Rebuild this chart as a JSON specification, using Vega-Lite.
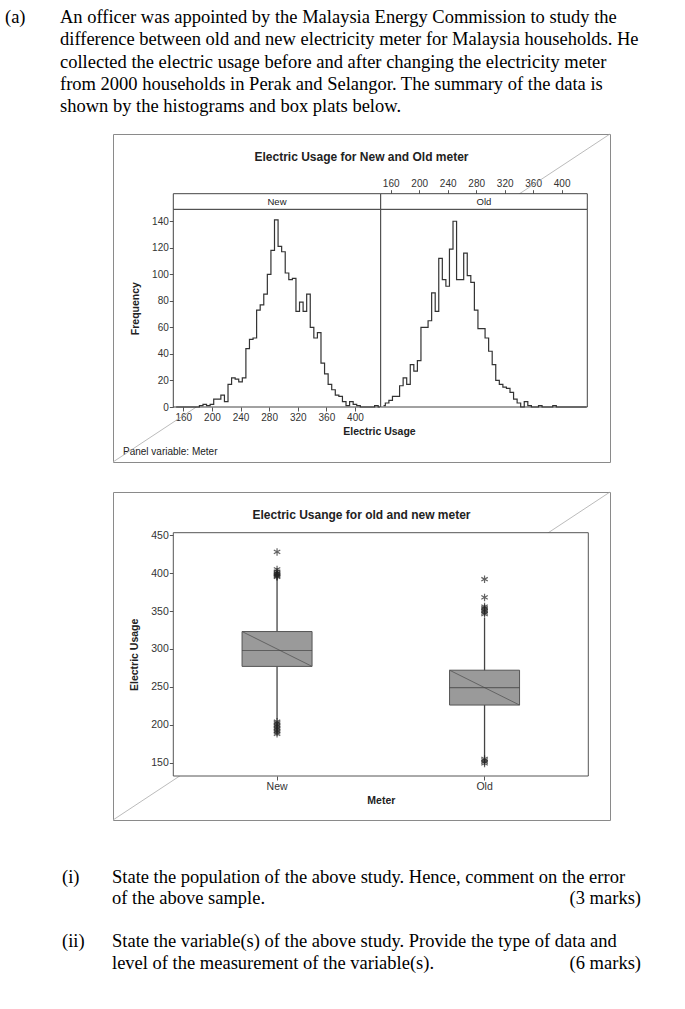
{
  "$schema": "https://vega.github.io/schema/vega-lite/v6.json",
  "padding": 0,
  "background": "white",
  "config": {
    "view": {"stroke": null},
    "font": "Liberation Sans",
    "axis": {"labelFont": "Liberation Sans", "labelFontSize": 10, "labelColor": "#333", "tickColor": "#555", "tickSize": 4, "labelPadding": 1, "domain": false, "grid": false, "titleFont": "Liberation Sans", "titleFontSize": 10.5, "titleFontWeight": "bold", "titleColor": "#222", "titlePadding": 4},
    "title": {"font": "Liberation Sans", "fontSize": 12, "fontWeight": "bold", "color": "#222"}
  },
  "datasets": {
    "para": [
      {"line": 1, "part": "label", "text": "(a)"},
      {"line": 1, "part": "body", "text": "An officer was appointed by the Malaysia Energy Commission to study the"},
      {"line": 2, "part": "body", "text": "difference between old and new electricity meter for Malaysia households. He"},
      {"line": 3, "part": "body", "text": "collected the electric usage before and after changing the electricity meter"},
      {"line": 4, "part": "body", "text": "from 2000 households in Perak and Selangor. The summary of the data is"},
      {"line": 5, "part": "body", "text": "shown by the histograms and box plats below."}
    ],
    "quest": [
      {"line": 1, "part": "label", "text": "(i)"},
      {"line": 1, "part": "body", "text": "State the population of the above study. Hence, comment on the error"},
      {"line": 2, "part": "body", "text": "of the above sample."},
      {"line": 2, "part": "marks", "text": "(3 marks)"},
      {"line": 4, "part": "label", "text": "(ii)"},
      {"line": 4, "part": "body", "text": "State the variable(s) of the above study. Provide the type of data and"},
      {"line": 5, "part": "body", "text": "level of the measurement of the variable(s)."},
      {"line": 5, "part": "marks", "text": "(6 marks)"}
    ],
    "hist": [
      {"meter": "New", "usage": 150, "freq": 0}, {"meter": "New", "usage": 155, "freq": 0}, {"meter": "New", "usage": 160, "freq": 0}, {"meter": "New", "usage": 165, "freq": 0},
      {"meter": "New", "usage": 170, "freq": 0}, {"meter": "New", "usage": 175, "freq": 0}, {"meter": "New", "usage": 180, "freq": 0}, {"meter": "New", "usage": 185, "freq": 1},
      {"meter": "New", "usage": 190, "freq": 2}, {"meter": "New", "usage": 195, "freq": 1}, {"meter": "New", "usage": 200, "freq": 2}, {"meter": "New", "usage": 205, "freq": 6},
      {"meter": "New", "usage": 210, "freq": 6}, {"meter": "New", "usage": 215, "freq": 9}, {"meter": "New", "usage": 220, "freq": 4}, {"meter": "New", "usage": 225, "freq": 17},
      {"meter": "New", "usage": 230, "freq": 22}, {"meter": "New", "usage": 235, "freq": 21}, {"meter": "New", "usage": 240, "freq": 19}, {"meter": "New", "usage": 245, "freq": 22},
      {"meter": "New", "usage": 250, "freq": 44}, {"meter": "New", "usage": 255, "freq": 51}, {"meter": "New", "usage": 260, "freq": 52}, {"meter": "New", "usage": 265, "freq": 73},
      {"meter": "New", "usage": 270, "freq": 77}, {"meter": "New", "usage": 275, "freq": 85}, {"meter": "New", "usage": 280, "freq": 100}, {"meter": "New", "usage": 285, "freq": 118},
      {"meter": "New", "usage": 290, "freq": 141}, {"meter": "New", "usage": 295, "freq": 121}, {"meter": "New", "usage": 300, "freq": 117}, {"meter": "New", "usage": 305, "freq": 101},
      {"meter": "New", "usage": 310, "freq": 96}, {"meter": "New", "usage": 315, "freq": 97}, {"meter": "New", "usage": 320, "freq": 72}, {"meter": "New", "usage": 325, "freq": 79},
      {"meter": "New", "usage": 330, "freq": 72}, {"meter": "New", "usage": 335, "freq": 85}, {"meter": "New", "usage": 340, "freq": 60}, {"meter": "New", "usage": 345, "freq": 52},
      {"meter": "New", "usage": 350, "freq": 56}, {"meter": "New", "usage": 355, "freq": 33}, {"meter": "New", "usage": 360, "freq": 25}, {"meter": "New", "usage": 365, "freq": 17},
      {"meter": "New", "usage": 370, "freq": 13}, {"meter": "New", "usage": 375, "freq": 9}, {"meter": "New", "usage": 380, "freq": 8}, {"meter": "New", "usage": 385, "freq": 4},
      {"meter": "New", "usage": 390, "freq": 1}, {"meter": "New", "usage": 395, "freq": 4}, {"meter": "New", "usage": 400, "freq": 2}, {"meter": "New", "usage": 405, "freq": 1},
      {"meter": "New", "usage": 410, "freq": 0}, {"meter": "New", "usage": 415, "freq": 0}, {"meter": "New", "usage": 420, "freq": 0}, {"meter": "New", "usage": 425, "freq": 0},
      {"meter": "New", "usage": 430, "freq": 1}, {"meter": "New", "usage": 435, "freq": 0},
      {"meter": "Old", "usage": 150, "freq": 1}, {"meter": "Old", "usage": 155, "freq": 3}, {"meter": "Old", "usage": 160, "freq": 5}, {"meter": "Old", "usage": 165, "freq": 8},
      {"meter": "Old", "usage": 170, "freq": 8}, {"meter": "Old", "usage": 175, "freq": 16}, {"meter": "Old", "usage": 180, "freq": 22}, {"meter": "Old", "usage": 185, "freq": 17},
      {"meter": "Old", "usage": 190, "freq": 32}, {"meter": "Old", "usage": 195, "freq": 27}, {"meter": "Old", "usage": 200, "freq": 35}, {"meter": "Old", "usage": 205, "freq": 60},
      {"meter": "Old", "usage": 210, "freq": 60}, {"meter": "Old", "usage": 215, "freq": 65}, {"meter": "Old", "usage": 220, "freq": 86}, {"meter": "Old", "usage": 225, "freq": 72},
      {"meter": "Old", "usage": 230, "freq": 112}, {"meter": "Old", "usage": 235, "freq": 96}, {"meter": "Old", "usage": 240, "freq": 91}, {"meter": "Old", "usage": 245, "freq": 119},
      {"meter": "Old", "usage": 250, "freq": 140}, {"meter": "Old", "usage": 255, "freq": 96}, {"meter": "Old", "usage": 260, "freq": 96}, {"meter": "Old", "usage": 265, "freq": 116},
      {"meter": "Old", "usage": 270, "freq": 99}, {"meter": "Old", "usage": 275, "freq": 94}, {"meter": "Old", "usage": 280, "freq": 73}, {"meter": "Old", "usage": 285, "freq": 59},
      {"meter": "Old", "usage": 290, "freq": 59}, {"meter": "Old", "usage": 295, "freq": 52}, {"meter": "Old", "usage": 300, "freq": 42}, {"meter": "Old", "usage": 305, "freq": 32},
      {"meter": "Old", "usage": 310, "freq": 20}, {"meter": "Old", "usage": 315, "freq": 17}, {"meter": "Old", "usage": 320, "freq": 15}, {"meter": "Old", "usage": 325, "freq": 14},
      {"meter": "Old", "usage": 330, "freq": 11}, {"meter": "Old", "usage": 335, "freq": 6}, {"meter": "Old", "usage": 340, "freq": 3}, {"meter": "Old", "usage": 345, "freq": 0},
      {"meter": "Old", "usage": 350, "freq": 4}, {"meter": "Old", "usage": 355, "freq": 1}, {"meter": "Old", "usage": 360, "freq": 0}, {"meter": "Old", "usage": 365, "freq": 0},
      {"meter": "Old", "usage": 370, "freq": 1}, {"meter": "Old", "usage": 375, "freq": 0}, {"meter": "Old", "usage": 380, "freq": 0}, {"meter": "Old", "usage": 385, "freq": 0},
      {"meter": "Old", "usage": 390, "freq": 1}, {"meter": "Old", "usage": 395, "freq": 0}, {"meter": "Old", "usage": 400, "freq": 0}, {"meter": "Old", "usage": 405, "freq": 0},
      {"meter": "Old", "usage": 410, "freq": 0}, {"meter": "Old", "usage": 415, "freq": 0}, {"meter": "Old", "usage": 420, "freq": 0}, {"meter": "Old", "usage": 425, "freq": 0},
      {"meter": "Old", "usage": 430, "freq": 0}, {"meter": "Old", "usage": 435, "freq": 0}
    ],
    "box": [
      {"meter": "New", "lower": 207, "q1": 277, "median": 298, "q3": 323, "upper": 393},
      {"meter": "Old", "lower": 157, "q1": 226, "median": 249, "q3": 272, "upper": 341}
    ],
    "outliers": [
      {"meter": "New", "value": 428}, {"meter": "New", "value": 405}, {"meter": "New", "value": 402}, {"meter": "New", "value": 400},
      {"meter": "New", "value": 399}, {"meter": "New", "value": 398}, {"meter": "New", "value": 397}, {"meter": "New", "value": 396},
      {"meter": "New", "value": 395}, {"meter": "New", "value": 204}, {"meter": "New", "value": 202}, {"meter": "New", "value": 200},
      {"meter": "New", "value": 198}, {"meter": "New", "value": 196}, {"meter": "New", "value": 194}, {"meter": "New", "value": 192},
      {"meter": "New", "value": 190}, {"meter": "New", "value": 188},
      {"meter": "Old", "value": 392}, {"meter": "Old", "value": 368}, {"meter": "Old", "value": 356}, {"meter": "Old", "value": 354},
      {"meter": "Old", "value": 352}, {"meter": "Old", "value": 350}, {"meter": "Old", "value": 348}, {"meter": "Old", "value": 346},
      {"meter": "Old", "value": 155}, {"meter": "Old", "value": 153}, {"meter": "Old", "value": 151}, {"meter": "Old", "value": 149}
    ]
  },
  "spacing": 28,
  "vconcat": [
    {
      "spacing": 13,
      "vconcat": [
        {
          "width": 685,
          "height": 120,
          "data": {"name": "para"},
          "mark": {"type": "text", "align": "left", "baseline": "middle", "font": "Liberation Serif", "fontSize": 18.5, "color": "#000"},
          "encoding": {
            "x": {"field": "part", "type": "nominal", "scale": {"type": "point", "domain": ["label", "body"], "range": [5, 60], "padding": 0}, "axis": null},
            "y": {"field": "line", "type": "quantitative", "scale": {"domain": [0.236, 5.629], "reverse": true, "nice": false, "zero": false}, "axis": null},
            "text": {"field": "text"}
          }
        },
        {
          "spacing": 0,
          "bounds": "flush",
          "hconcat": [
            {
              "width": 113,
              "height": 1,
              "data": {"values": []},
              "mark": "text",
              "title": {"text": "Panel variable: Meter", "orient": "bottom", "anchor": "start", "offset": 312, "dx": 123, "fontSize": 10, "fontWeight": "normal", "color": "#222"}
            },
            {
              "width": 497,
              "height": 328,
              "view": {"stroke": "#8a8a8a", "strokeWidth": 1, "fill": null},
              "title": {"text": "Electric Usage for New and Old meter", "orient": "top", "anchor": "middle", "offset": -30},
              "resolve": {"scale": {"x": "independent", "y": "independent"}, "axis": {"x": "independent", "y": "independent"}},
              "layer": [
                {
                  "data": {"values": [{}]},
                  "mark": {"type": "rule", "color": "#aaaaaa", "strokeWidth": 0.8},
                  "encoding": {
                    "x": {"datum": 0, "type": "quantitative", "scale": {"domain": [0, 1], "nice": false}, "axis": null},
                    "x2": {"datum": 1},
                    "y": {"datum": 0, "type": "quantitative", "scale": {"domain": [0, 1], "nice": false}, "axis": null},
                    "y2": {"datum": 1}
                  }
                },
                {
                  "data": {"values": [{}]},
                  "mark": {"type": "rect", "fill": "white", "stroke": "#444", "strokeWidth": 1},
                  "encoding": {
                    "x": {"datum": 146, "type": "quantitative", "scale": {"domain": [146, 436], "range": [60.3, 267.7], "nice": false, "zero": false}, "axis": null},
                    "x2": {"datum": 436},
                    "y": {"datum": 0, "type": "quantitative", "scale": {"domain": [0, 149], "range": [273, 75.3], "nice": false}, "axis": null},
                    "y2": {"datum": 149}
                  }
                },
                {
                  "data": {"values": [{}]},
                  "mark": {"type": "rect", "fill": "white", "stroke": "#444", "strokeWidth": 1},
                  "encoding": {
                    "x": {"datum": 146, "type": "quantitative", "scale": {"domain": [146, 436], "range": [267.7, 474.3], "nice": false, "zero": false}, "axis": null},
                    "x2": {"datum": 436},
                    "y": {"datum": 0, "type": "quantitative", "scale": {"domain": [0, 149], "range": [273, 75.3], "nice": false}, "axis": null},
                    "y2": {"datum": 149}
                  }
                },
                {
                  "data": {"values": [{"meter": "New"}]},
                  "mark": {"type": "rect", "fill": "white", "stroke": "#444", "strokeWidth": 1},
                  "encoding": {
                    "x": {"datum": 146, "type": "quantitative", "scale": {"domain": [146, 436], "range": [60.3, 267.7], "nice": false, "zero": false}, "axis": null},
                    "x2": {"datum": 436},
                    "y": {"datum": 0, "type": "quantitative", "scale": {"domain": [0, 1], "range": [75.3, 59.7], "nice": false}, "axis": null},
                    "y2": {"datum": 1}
                  }
                },
                {
                  "data": {"values": [{"meter": "New"}]},
                  "mark": {"type": "text", "fontSize": 9.5, "color": "#222", "baseline": "middle"},
                  "encoding": {
                    "x": {"datum": 291, "type": "quantitative", "scale": {"domain": [146, 436], "range": [60.3, 267.7], "nice": false, "zero": false}, "axis": null},
                    "y": {"datum": 0.5, "type": "quantitative", "scale": {"domain": [0, 1], "range": [75.3, 59.7], "nice": false}, "axis": null},
                    "text": {"field": "meter"}
                  }
                },
                {
                  "data": {"values": [{"meter": "Old"}]},
                  "mark": {"type": "rect", "fill": "white", "stroke": "#444", "strokeWidth": 1},
                  "encoding": {
                    "x": {"datum": 146, "type": "quantitative", "scale": {"domain": [146, 436], "range": [267.7, 474.3], "nice": false, "zero": false}, "axis": null},
                    "x2": {"datum": 436},
                    "y": {"datum": 0, "type": "quantitative", "scale": {"domain": [0, 1], "range": [75.3, 59.7], "nice": false}, "axis": null},
                    "y2": {"datum": 1}
                  }
                },
                {
                  "data": {"values": [{"meter": "Old"}]},
                  "mark": {"type": "text", "fontSize": 9.5, "color": "#222", "baseline": "middle"},
                  "encoding": {
                    "x": {"datum": 291, "type": "quantitative", "scale": {"domain": [146, 436], "range": [267.7, 474.3], "nice": false, "zero": false}, "axis": null},
                    "y": {"datum": 0.5, "type": "quantitative", "scale": {"domain": [0, 1], "range": [75.3, 59.7], "nice": false}, "axis": null},
                    "text": {"field": "meter"}
                  }
                },
                {
                  "data": {"name": "hist"},
                  "transform": [{"filter": "datum.meter === 'New'"}],
                  "mark": {"type": "line", "interpolate": "step", "color": "#333", "strokeWidth": 1.2},
                  "encoding": {
                    "x": {"field": "usage", "type": "quantitative", "scale": {"domain": [146, 436], "range": [60.3, 267.7], "nice": false, "zero": false}, "axis": {"orient": "bottom", "offset": -55, "values": [160, 200, 240, 280, 320, 360, 400], "title": "Electric Usage", "titleX": 266}},
                    "y": {"field": "freq", "type": "quantitative", "scale": {"domain": [0, 149], "range": [273, 75.3], "nice": false}, "axis": {"orient": "left", "offset": -60.3, "values": [0, 20, 40, 60, 80, 100, 120, 140], "title": "Frequency", "titlePadding": 11}}
                  }
                },
                {
                  "data": {"name": "hist"},
                  "transform": [{"filter": "datum.meter === 'Old'"}],
                  "mark": {"type": "line", "interpolate": "step", "color": "#333", "strokeWidth": 1.2},
                  "encoding": {
                    "x": {"field": "usage", "type": "quantitative", "scale": {"domain": [146, 436], "range": [267.7, 474.3], "nice": false, "zero": false}, "axis": {"orient": "top", "offset": -59.7, "values": [160, 200, 240, 280, 320, 360, 400], "title": null}},
                    "y": {"field": "freq", "type": "quantitative", "scale": {"domain": [0, 149], "range": [273, 75.3], "nice": false}, "axis": null}
                  }
                }
              ]
            }
          ]
        }
      ]
    },
    {
      "spacing": 9,
      "vconcat": [
        {
          "spacing": 0,
          "bounds": "flush",
          "hconcat": [
            {"width": 113, "height": 1, "data": {"values": []}, "mark": "text"},
            {
              "width": 497,
              "height": 328,
              "view": {"stroke": "#8a8a8a", "strokeWidth": 1, "fill": null},
              "title": {"text": "Electric Usange for old and new meter", "orient": "top", "anchor": "middle", "offset": -30},
              "resolve": {"scale": {"x": "independent", "y": "independent"}, "axis": {"x": "independent", "y": "independent"}},
              "layer": [
                {
                  "data": {"values": [{}]},
                  "mark": {"type": "rule", "color": "#aaaaaa", "strokeWidth": 0.8},
                  "encoding": {
                    "x": {"datum": 0, "type": "quantitative", "scale": {"domain": [0, 1], "nice": false}, "axis": null},
                    "x2": {"datum": 1},
                    "y": {"datum": 0, "type": "quantitative", "scale": {"domain": [0, 1], "nice": false}, "axis": null},
                    "y2": {"datum": 1}
                  }
                },
                {
                  "data": {"values": [{}]},
                  "mark": {"type": "rect", "fill": "white", "stroke": "#555", "strokeWidth": 1},
                  "encoding": {
                    "x": {"datum": 0, "type": "quantitative", "scale": {"domain": [0, 1], "range": [60.3, 475.3], "nice": false}, "axis": null},
                    "x2": {"datum": 1},
                    "y": {"datum": 132.4, "type": "quantitative", "scale": {"domain": [132.4, 453.4], "range": [284, 40.7], "nice": false, "zero": false}, "axis": null},
                    "y2": {"datum": 453.4}
                  }
                },
                {
                  "data": {"name": "box"},
                  "mark": {"type": "rule", "color": "#444", "strokeWidth": 1.3},
                  "encoding": {
                    "x": {"field": "meter", "type": "nominal", "scale": {"domain": ["New", "Old"], "range": [60.3, 475.3], "paddingInner": 0, "paddingOuter": 0}, "axis": {"orient": "bottom", "offset": -44, "labelAngle": 0, "title": "Meter", "labelFontSize": 10.5}},
                    "y": {"field": "lower", "type": "quantitative", "scale": {"domain": [132.4, 453.4], "range": [284, 40.7], "nice": false, "zero": false}, "axis": {"orient": "left", "offset": -60.3, "values": [150, 200, 250, 300, 350, 400, 450], "title": "Electric Usage", "titlePadding": 11, "labelFontSize": 10.5}},
                    "y2": {"field": "upper"}
                  }
                },
                {
                  "data": {"name": "box"},
                  "mark": {"type": "bar", "width": 70, "fill": "#9a9a9a", "stroke": "#555", "strokeWidth": 1},
                  "encoding": {
                    "x": {"field": "meter", "type": "nominal", "scale": {"domain": ["New", "Old"], "range": [60.3, 475.3], "paddingInner": 0, "paddingOuter": 0}, "axis": null},
                    "y": {"field": "q1", "type": "quantitative", "scale": {"domain": [132.4, 453.4], "range": [284, 40.7], "nice": false, "zero": false}, "axis": null},
                    "y2": {"field": "q3"}
                  }
                },
                {
                  "data": {"name": "box"},
                  "mark": {"type": "rule", "xOffset": -35, "x2Offset": 35, "color": "#555", "strokeWidth": 0.8},
                  "encoding": {
                    "x": {"field": "meter", "type": "nominal", "scale": {"domain": ["New", "Old"], "range": [60.3, 475.3], "paddingInner": 0, "paddingOuter": 0}, "axis": null},
                    "x2": {"field": "meter"},
                    "y": {"field": "q3", "type": "quantitative", "scale": {"domain": [132.4, 453.4], "range": [284, 40.7], "nice": false, "zero": false}, "axis": null},
                    "y2": {"field": "q1"}
                  }
                },
                {
                  "data": {"name": "box"},
                  "mark": {"type": "tick", "orient": "horizontal", "size": 70, "thickness": 1.2, "color": "#444"},
                  "encoding": {
                    "x": {"field": "meter", "type": "nominal", "scale": {"domain": ["New", "Old"], "range": [60.3, 475.3], "paddingInner": 0, "paddingOuter": 0}, "axis": null},
                    "y": {"field": "median", "type": "quantitative", "scale": {"domain": [132.4, 453.4], "range": [284, 40.7], "nice": false, "zero": false}, "axis": null}
                  }
                },
                {
                  "data": {"name": "outliers"},
                  "mark": {"type": "point", "shape": "M0,-1L0,1M-0.87,-0.5L0.87,0.5M-0.87,0.5L0.87,-0.5", "filled": false, "size": 55, "stroke": "#222", "strokeWidth": 1.2},
                  "encoding": {
                    "x": {"field": "meter", "type": "nominal", "scale": {"domain": ["New", "Old"], "range": [60.3, 475.3], "paddingInner": 0, "paddingOuter": 0}, "axis": null},
                    "y": {"field": "value", "type": "quantitative", "scale": {"domain": [132.4, 453.4], "range": [284, 40.7], "nice": false, "zero": false}, "axis": null}
                  }
                }
              ]
            }
          ]
        },
        {
          "width": 641,
          "height": 150,
          "data": {"name": "quest"},
          "layer": [
            {
              "transform": [{"filter": "datum.part !== 'marks'"}],
              "mark": {"type": "text", "align": "left", "baseline": "middle", "font": "Liberation Serif", "fontSize": 18.5, "color": "#000"},
              "encoding": {
                "x": {"field": "part", "type": "nominal", "scale": {"type": "point", "domain": ["label", "body"], "range": [62, 112], "padding": 0}, "axis": null},
                "y": {"field": "line", "type": "quantitative", "scale": {"domain": [-1.186, 5.791], "reverse": true, "nice": false, "zero": false}, "axis": null},
                "text": {"field": "text"}
              }
            },
            {
              "transform": [{"filter": "datum.part === 'marks'"}],
              "mark": {"type": "text", "align": "right", "baseline": "middle", "font": "Liberation Serif", "fontSize": 18.5, "color": "#000"},
              "encoding": {
                "x": {"value": "width"},
                "y": {"field": "line", "type": "quantitative", "scale": {"domain": [-1.186, 5.791], "reverse": true, "nice": false, "zero": false}, "axis": null},
                "text": {"field": "text"}
              }
            }
          ]
        }
      ]
    }
  ]
}
